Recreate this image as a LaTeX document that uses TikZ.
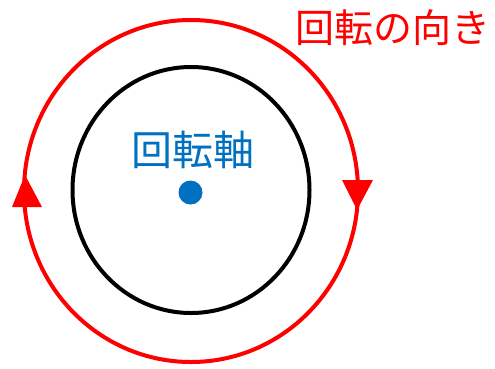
\documentclass[tikz,border=0pt]{standalone}
\usepackage{fontspec}
\newfontfamily\cjkfont{Noto Sans CJK JP}
\definecolor{rotred}{RGB}{255,0,0}
\definecolor{axisblue}{RGB}{0,112,192}
\begin{document}
\begin{tikzpicture}[x=1pt,y=-1pt,
  ring/.style={line width=4pt},
  tip/.style={fill=rotred,draw=none},
  lbl/.style={font=\cjkfont\fontsize{41pt}{41pt}\selectfont,inner sep=0pt}]
\useasboundingbox (0,0) rectangle (495,368);
% red rotation circle
\draw[ring,draw=rotred] (191,191) ellipse [x radius=167, y radius=171];
% black body circle
\draw[ring,draw=black] (191,190) ellipse [x radius=118.5, y radius=123];
% arrow heads
\fill[tip] (25,175) -- (12,207) -- (42,207) -- cycle;
\fill[tip] (342,180) -- (373,180) -- (357,210) -- cycle;
% axis dot
\fill[axisblue] (190.5,192.5) circle (12);
% labels
\node[lbl,text=axisblue] (axis) at (193,150) {回転軸};
\node[lbl,text=rotred,font=\cjkfont\fontsize{39pt}{39pt}\selectfont,anchor=east] (dir) at (491,28) {回転の向き};
\end{tikzpicture}
\end{document}
